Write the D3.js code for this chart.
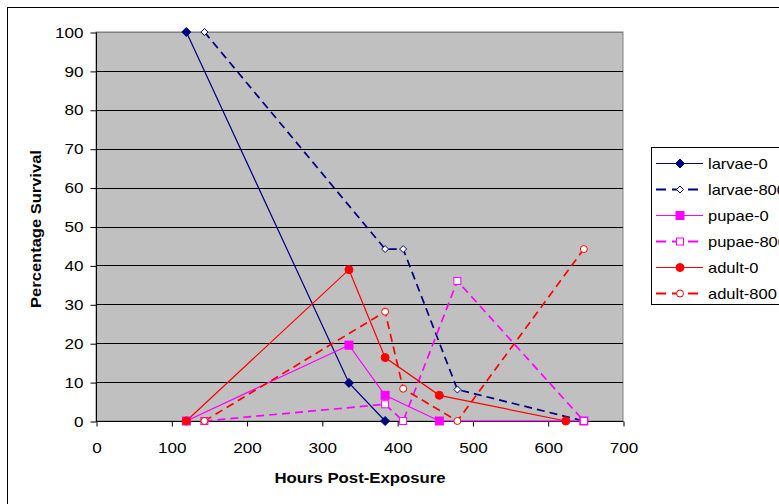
<!DOCTYPE html>
<html><head><meta charset="utf-8">
<script src="https://cdn.jsdelivr.net/npm/d3@7"></script>
<style>body{margin:0;background:#fff}text{font-family:"Liberation Sans",Arial,sans-serif}</style>
</head><body><svg id="c" width="779" height="504"></svg>
<script>
const seriesNames = ["larvae-0","larvae-800","pupae-0","pupae-800","adult-0","adult-800"];
const larvae0X = [120,336,384];
const larvae0Y = [100,9.8,0];
const larvae800X = [144,384,408,480,648];
const larvae800Y = [100,44.2,44.2,8.1,0];
const pupae0X = [120,336,384,456,648];
const pupae0Y = [0,19.5,6.6,0,0];
const pupae800X = [144,384,408,480,648];
const pupae800Y = [0,4.3,0,36,0];
const adult0X = [120,336,384,456,624];
const adult0Y = [0,38.9,16.3,6.6,0];
const adult800X = [144,384,408,480,648];
const adult800Y = [0,28.1,8.3,0,44.2];
const xTicks = [0,100,200,300,400,500,600,700];
const yTicks = [0,10,20,30,40,50,60,70,80,90,100];

const series = [
  {name:seriesNames[0], x:larvae0X, y:larvae0Y, color:"#000080", dash:null, marker:"diamond", fill:true},
  {name:seriesNames[1], x:larvae800X, y:larvae800Y, color:"#000080", dash:"8,5", marker:"diamond", fill:false},
  {name:seriesNames[2], x:pupae0X, y:pupae0Y, color:"#FF00FF", dash:null, marker:"square", fill:true},
  {name:seriesNames[3], x:pupae800X, y:pupae800Y, color:"#FF00FF", dash:"8,5", marker:"square", fill:false},
  {name:seriesNames[4], x:adult0X, y:adult0Y, color:"#FF0000", dash:null, marker:"circle", fill:true},
  {name:seriesNames[5], x:adult800X, y:adult800Y, color:"#FF0000", dash:"8,5", marker:"circle", fill:false}
];

const SX = 1.18; // horizontal stretch of text seen in the reference
const svg = d3.select("#c");
svg.append("rect").attr("x",7.5).attr("y",7.5).attr("width",900).attr("height",600)
  .attr("fill","none").attr("stroke","#000").attr("stroke-width",1);

const L=96,R=623,T=32,B=421;
const x = d3.scaleLinear().domain([0,700]).range([L,R]);
const y = d3.scaleLinear().domain([0,100]).range([B,T]);

svg.append("rect").attr("x",L).attr("y",T).attr("width",R-L).attr("height",B-T)
  .attr("fill","#C0C0C0").attr("stroke","#808080").attr("stroke-width",1);

svg.append("g").selectAll("line").data(yTicks.filter(d=>d>0)).join("line")
  .attr("x1",L).attr("x2",R).attr("y1",d=>Math.round(y(d))+0.5).attr("y2",d=>Math.round(y(d))+0.5)
  .attr("stroke",d=>d===100?"#808080":"#000").attr("stroke-width",1);

const yAxis = d3.axisLeft(y).tickValues(yTicks).tickSize(6).tickPadding(7);
const gy = svg.append("g").attr("transform",`translate(${L+0.5},0.5)`).call(yAxis);
const xAxis = d3.axisBottom(x).tickValues(xTicks).tickSize(5).tickPadding(16);
const gx = svg.append("g").attr("transform",`translate(0.5,${B+0.5})`).call(xAxis);
[gx,gy].forEach(g=>{
  g.selectAll("text").attr("font-size",14.5).attr("fill","#000").style("font-family","Liberation Sans, Arial, sans-serif");
  g.selectAll("line,path").attr("stroke","#000");
});
gx.select(".domain").attr("d",`M${L},0H${R}`);
gy.select(".domain").attr("d",`M0,${T}V${B}`);
gx.selectAll("text").attr("transform",`scale(${SX},1)`);
gy.selectAll("text").attr("x",0).attr("transform",`translate(-13,0) scale(${SX},1)`);

svg.append("text").attr("transform",`translate(360,483) scale(${SX},1)`).attr("text-anchor","middle")
  .attr("font-size",14.2).attr("font-weight","bold").text("Hours Post-Exposure");
svg.append("text").attr("transform",`translate(41,229) rotate(-90) scale(${SX},1)`).attr("text-anchor","middle")
  .attr("font-size",14).attr("font-weight","bold").text("Percentage Survival");

const line = d3.line().x(d=>x(d[0])).y(d=>y(d[1]));
function diamondPath(px,py,r){return `M${px},${py-r}L${px+r},${py}L${px},${py+r}L${px-r},${py}Z`;}
function drawMarker(g,s,px,py){
  const fill = s.fill ? s.color : "#fff";
  if(s.marker==="diamond"){
    g.append("path").attr("d",diamondPath(px,py,s.fill?4.5:3.5)).attr("fill",fill).attr("stroke",s.color).attr("stroke-width",1);
  } else if(s.marker==="square"){
    const h = s.fill?4:3.5;
    g.append("rect").attr("x",px-h).attr("y",py-h).attr("width",2*h).attr("height",2*h)
      .attr("fill",fill).attr("stroke",s.color).attr("stroke-width",1);
  } else {
    g.append("circle").attr("cx",px).attr("cy",py).attr("r",s.fill?4:3.5)
      .attr("fill",fill).attr("stroke",s.color).attr("stroke-width",1);
  }
}

const plot = svg.append("g");
series.forEach(s=>{
  const pts = s.x.map((v,i)=>[v,s.y[i]]);
  plot.append("path").datum(pts).attr("d",line).attr("fill","none")
    .attr("stroke",s.color).attr("stroke-width",s.dash?1.7:1.2)
    .attr("stroke-dasharray",s.dash);
});
series.forEach(s=>{
  s.x.forEach((v,i)=>drawMarker(plot,s,x(v),y(s.y[i])));
});

const lg = svg.append("g");
lg.append("rect").attr("x",651.5).attr("y",147.5).attr("width",200).attr("height",157)
  .attr("fill","#fff").attr("stroke","#000").attr("stroke-width",1);
series.forEach((s,i)=>{
  const cy = 163.5 + i*26;
  lg.append("line").attr("x1",656).attr("x2",703).attr("y1",cy).attr("y2",cy)
    .attr("stroke",s.color).attr("stroke-width",s.dash?2.2:1.2).attr("stroke-dasharray",s.dash?"10,6":null);
  drawMarker(lg,s,680,cy);
  lg.append("text").attr("transform",`translate(708,${cy+5}) scale(${SX},1)`)
    .attr("font-size",14).attr("fill","#000").text(s.name);
});
</script></body></html>
